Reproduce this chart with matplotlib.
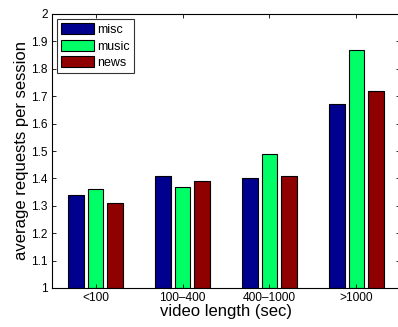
import numpy as np
import matplotlib
matplotlib.use("Agg")
import matplotlib.pyplot as plt

categories = ["<100", "100\u2013400", "400\u20131000", ">1000"]
series = ["misc", "music", "news"]
misc = [1.34, 1.41, 1.40, 1.67]
music = [1.36, 1.37, 1.49, 1.87]
news = [1.31, 1.39, 1.41, 1.72]
colors = ["#00008f", "#00ff66", "#8f0000"]

plt.rcParams['font.family'] = ['Liberation Sans', 'DejaVu Sans']

fig = plt.figure(figsize=(3.98, 3.27), dpi=100)
ax = fig.add_axes([52 / 398, 1 - 288 / 327, 348 / 398, 274 / 327])

x = np.arange(1, len(categories) + 1)
step = 0.667 / 3
width = step * 0.8
for i, (name, vals) in enumerate(zip(series, [misc, music, news])):
    ax.bar(x + (i - 1) * step, np.array(vals) - 1, bottom=1, width=width,
           color=colors[i], edgecolor="black", linewidth=0.8, label=name)

ax.set_xlim(0.5, 4.5)
ax.set_ylim(1, 2)
ax.set_xticks(x)
ax.set_xticklabels(categories)
ax.set_yticks(np.arange(1, 2.01, 0.1))
ax.set_yticklabels(["1", "1.1", "1.2", "1.3", "1.4", "1.5", "1.6", "1.7", "1.8", "1.9", "2"])
ax.tick_params(direction="in", top=True, right=True, length=3, width=0.6,
               labelsize=8.6, pad=3)
for s in ax.spines.values():
    s.set_linewidth(0.8)

ax.set_xlabel("video length (sec)", fontsize=12, labelpad=0)
ax.set_ylabel("average requests per session", fontsize=12, labelpad=2)

leg = ax.legend(loc="upper left", fontsize=9, frameon=True, fancybox=False,
                borderpad=0.35, labelspacing=0.3, handlelength=2.6,
                handleheight=0.95, handletextpad=0.25, borderaxespad=0.4)
leg.get_frame().set_edgecolor("black")
leg.get_frame().set_linewidth(0.8)

fig.savefig("out.png", dpi=100)
